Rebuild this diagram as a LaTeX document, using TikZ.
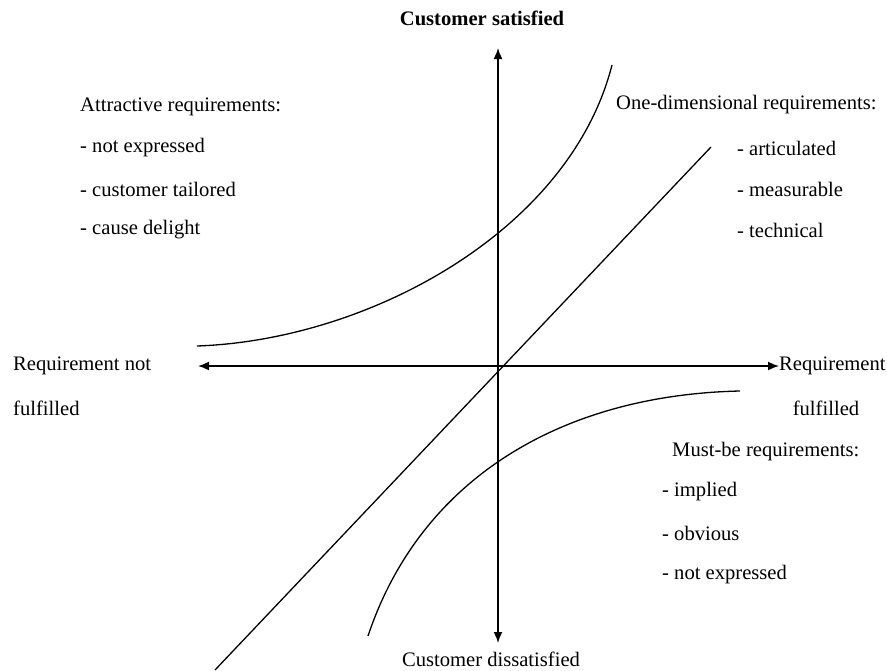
\documentclass[tikz,border=0pt]{standalone}
\usepackage{fontspec}
\setmainfont{Liberation Serif}
\usetikzlibrary{arrows.meta}
\begin{document}
\begin{tikzpicture}[x=1pt,y=-1pt,
	lbl/.style={font=\fontsize{20.6}{25}\selectfont, inner sep=0pt},
	lft/.style={lbl, anchor=west},
	axis/.style={line width=1.6pt, {Latex[length=11pt,width=9pt]}-{Latex[length=11pt,width=9pt]}},
	crv/.style={line width=1.3pt}]
		\useasboundingbox (0,0) rectangle (887,670);
		% axes
		\coordinate (top) at (498,48);
		\coordinate (bot) at (498,643);
		\coordinate (west) at (198,366);
		\coordinate (east) at (779,366);
		\draw [axis] (bot) -- (top);
		\draw [axis] (west) -- (east);
		% curves
		\coordinate (a0) at (197,346);
		\coordinate (a1) at (612,65);
		\coordinate (d0) at (215,670);
		\coordinate (d1) at (711,147);
		\coordinate (m0) at (368,636);
		\coordinate (m1) at (740,391);
		\draw [crv] (a0) .. controls (370,340) and (570,230) .. (a1);
		\draw [crv] (d0) -- (d1);
		\draw [crv] (m0) .. controls (420,480) and (560,395) .. (m1);
		% axis labels
		\node [lbl] (sat) at (482,18) {\textbf{Customer satisfied}};
		\node [lbl] (dis) at (491,659) {Customer dissatisfied};
		\node [lft] (nf1) at (13,366) {Requirement not};
		\node [lft] (nf2) at (13,408) {fulfilled};
		\node [lft] (f1) at (779,366) {Requirement};
		\node [lbl] (f2) at (826,408) {fulfilled};
		% attractive
		\node [lft] (at0) at (80,107) {Attractive requirements:};
		\node [lft] (at1) at (80,148) {- not expressed};
		\node [lft] (at2) at (80,189) {- customer tailored};
		\node [lft] (at3) at (80,230) {- cause delight};
		% one-dimensional
		\node [lft] (od0) at (616,105) {One-dimensional requirements:};
		\node [lft] (od1) at (737,148) {- articulated};
		\node [lft] (od2) at (737,189) {- measurable};
		\node [lft] (od3) at (737,230) {- technical};
		% must-be
		\node [lft] (mb0) at (672,452) {Must-be requirements:};
		\node [lft] (mb1) at (662,492) {- implied};
		\node [lft] (mb2) at (662,533) {- obvious};
		\node [lft] (mb3) at (662,575) {- not expressed};
	\end{tikzpicture}
\end{document}
